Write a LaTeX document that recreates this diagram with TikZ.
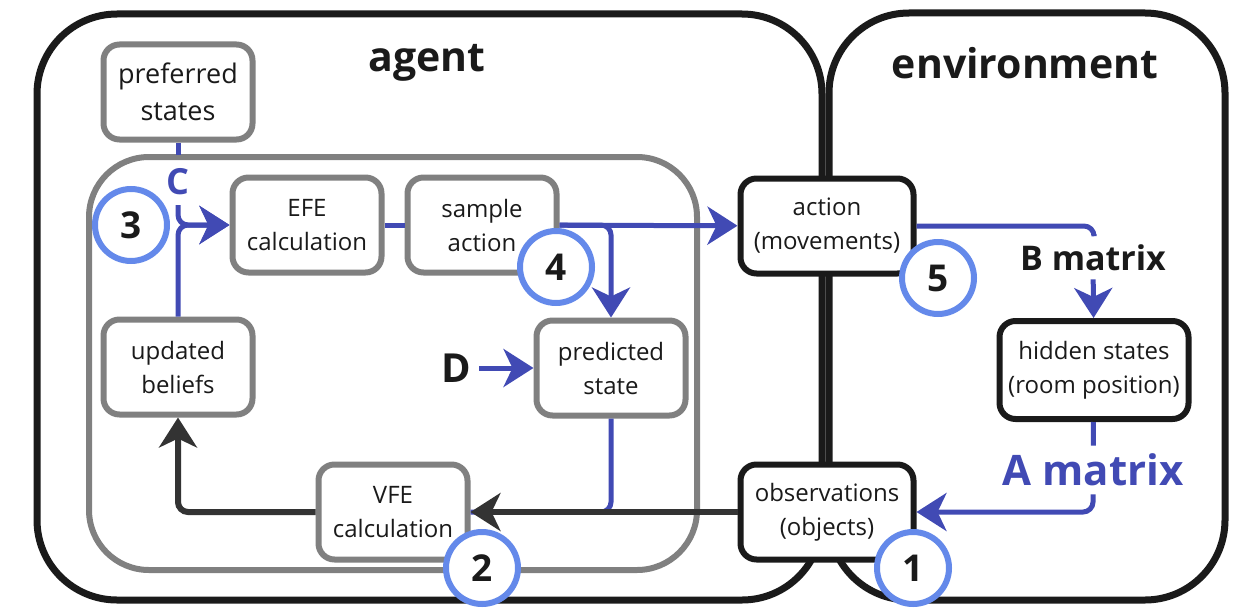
\documentclass[tikz,border=0pt]{standalone}
\usepackage{fontspec}
\setmainfont{Open Sans}
\usepackage{tikz}
\usetikzlibrary{positioning,arrows.meta}
\definecolor{ink}{RGB}{26,26,26}
\definecolor{dgray}{RGB}{51,51,51}
\definecolor{mgray}{RGB}{128,128,128}
\definecolor{dblue}{RGB}{65,74,180}
\definecolor{lblue}{RGB}{100,137,234}
\tikzset{
  gbox/.style={draw=mgray, line width=6pt, rounded corners=16pt, fill=white, minimum width=149pt, minimum height=95pt, align=center, text=ink, font=\fontsize{24}{34}\selectfont},
  kbox/.style={gbox, draw=ink, minimum width=173pt},
  num/.style={circle, draw=lblue, line width=6pt, fill=white, minimum size=72pt, inner sep=0pt, text=ink, font=\fontsize{37}{37}\selectfont\bfseries},
  Be/.style={-{Stealth[length=30pt,width=38pt,inset=9pt]}, dblue, line width=5pt, rounded corners=10pt},
  Bl/.style={dblue, line width=5pt, rounded corners=10pt},
  Ke/.style={-{Stealth[length=30pt,width=38pt,inset=9pt]}, dgray, line width=6pt, rounded corners=10pt},
  ttl/.style={text=ink, font=\fontsize{41}{41}\selectfont\bfseries},
  mlbl/.style={inner sep=8pt, font=\fontsize{34}{34}\selectfont\bfseries},
  frame/.style={draw=ink, line width=7pt, rounded corners=80pt}
}

\begin{document}
\begin{tikzpicture}[x=1pt, y=-1pt]
  \useasboundingbox (0,0) rectangle (1233,610);
  % agent and environment
  \draw[frame] (37,14) rectangle (822,600);
  \draw[frame] (829,13) rectangle (1225,600);
  \draw[mgray, line width=6pt, rounded corners=60pt] (89,157) rectangle (697,570);
  \node[ttl] (agent) at (427,63) {agent};
  \node[ttl] (env) at (1025,63) {environment};

  \node[gbox, font=\fontsize{27}{37}\selectfont] (pref) at (178,92) {preferred\\states};
  \node[gbox] (efe) at (307,225) {EFE\\calculation};
  \node[gbox] (samp) at (482,225) {sample\\action};
  \node[gbox] (upd) at (178,367) {updated\\beliefs};
  \node[gbox] (pred) at (611,368) {predicted\\state};
  \node[gbox] (vfe) at (393,512) {VFE\\calculation};
  \node[kbox] (act) at (827,226) {action\\(movements)};
  \node[kbox] (obs) at (827,512) {observations\\(objects)};
  \node[kbox, minimum width=189pt, minimum height=98pt] (hid) at (1094,370) {hidden states\\(room position)};

  \node[mlbl, text=dblue, font=\fontsize{36}{36}\selectfont\bfseries] (clbl) at (178,182) {C};
  \node[mlbl, text=ink, font=\fontsize{40}{40}\selectfont\bfseries] (dlbl) at (456,368) {D};
  \node[mlbl, text=ink] (blbl) at (1093,258) {B matrix};
  \node[mlbl, text=dblue, font=\fontsize{42}{42}\selectfont\bfseries] (albl) at (1093,470) {A matrix};
  \coordinate (cTop) at (178,155);
  \coordinate (cBot) at (178,205);
  \coordinate (bEnd) at (1094,234);

  % connectors
  \draw[Bl] (pref) -- (cTop);
  \draw[Be] (cBot) |- (efe);
  \draw[Be] (upd) |- (efe);
  \draw[Bl] (efe) -- (samp);
  \draw[Be] (samp) -- (act);
  \draw[Be] (samp.east) -| (pred);
  \draw[Be] (dlbl) -- (pred);
  \draw[Bl] (pred) |- (vfe);
  \draw[Ke] (obs) -- (vfe);
  \draw[Ke] (vfe) -| (upd);
  \draw[Bl] (act) -| (bEnd);
  \draw[Be] (blbl) -- (hid);
  \draw[Bl] (hid) -- (albl);
  \draw[Be] (albl) |- (obs);

  \node[num] (n3) at (131,225) {3};
  \node[num] (n4) at (556,267) {4};
  \node[num] (n5) at (938,278) {5};
  \node[num] (n2) at (482,568) {2};
  \node[num] (n1) at (913,568) {1};
\end{tikzpicture}
\end{document}
